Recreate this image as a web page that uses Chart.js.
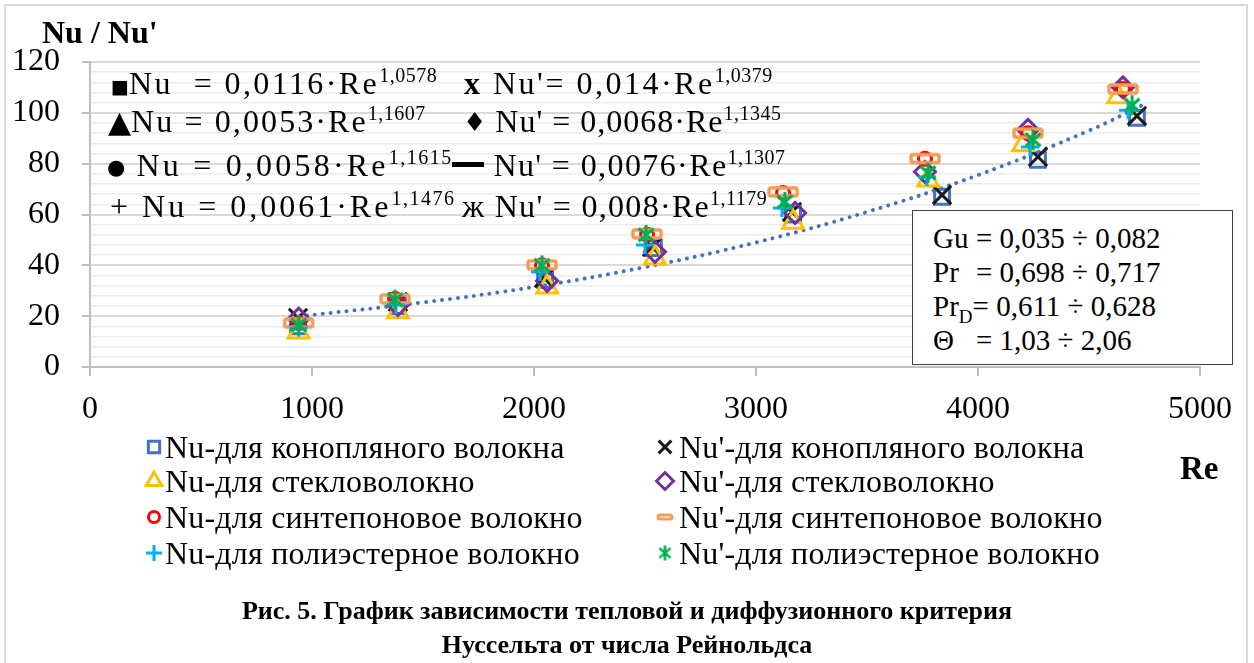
<!DOCTYPE html>
<html>
<head>
<meta charset="utf-8">
<script src="https://cdn.jsdelivr.net/npm/chart.js@4.4.1/dist/chart.umd.min.js"></script>
<style>
  body { margin: 0; background: #fff; }
  #wrap { position: relative; width: 1254px; height: 663px; overflow: hidden; background: #fff; }
  #frame { position: absolute; left: 4px; top: 4px; width: 1240px; height: 700px; border: 2px solid #d9d9d9; }
  canvas { position: absolute; left: 0; top: 0; }
  .txt { position: absolute; font-family: "Liberation Serif", "Times New Roman", serif; color: #000; white-space: nowrap; }
  .eq { font-size: 32px; line-height: 32px; letter-spacing: 1.8px; }
  .eq sup { font-size: 20px; line-height: 0; vertical-align: 12px; letter-spacing: 0.5px; }
  .sym { font-family: "DejaVu Sans", sans-serif; letter-spacing: 0; }
  .bar { display: inline-block; width: 32px; height: 5px; background: #000; vertical-align: 9px; }
  .leg { font-size: 32px; line-height: 34px; letter-spacing: 0.2px; }
  #box { position: absolute; left: 912px; top: 210px; width: 321px; height: 155px; border: 1.5px solid #404040; background: #fff;
         font-family: "Liberation Serif", serif; font-size: 29px; line-height: 34px; padding: 10px 0 0 20px; box-sizing: border-box; }
  #box .lab { display: inline-block; width: 43px; }
  #box sub { font-size: 19px; line-height: 0; vertical-align: -7px; }
  .cap { font-weight: bold; font-size: 26px; line-height: 30px; left: 0; width: 1254px; text-align: center; }
</style>
</head>
<body>
<div id="wrap">
  <div id="frame"></div>
  <canvas id="chart" width="1254" height="663"></canvas>

  <div class="txt" style="left:42px; top:14px; font-size:32px; font-weight:bold;">Nu / Nu'</div>
  <div class="txt" style="left:1180px; top:450px; font-size:33px; font-weight:bold;">Re</div>

  <div class="txt eq" style="left:111px; top:67px; letter-spacing:2.4px;"><span class="sym" style="font-size:19px;vertical-align:1px">■</span>Nu&nbsp; = 0,0116·Re<sup>1,0578</sup></div>
  <div class="txt eq" style="left:108px; top:105px; letter-spacing:2.1px;"><span class="sym" style="font-size:30px">▲</span>Nu = 0,0053·Re<sup>1,1607</sup></div>
  <div class="txt eq" style="left:107px; top:149px; letter-spacing:3.2px;"><span class="sym" style="font-size:21px;vertical-align:2px">●</span> Nu = 0,0058·Re<sup style="letter-spacing:1.5px">1,1615</sup></div>
  <div class="txt eq" style="left:110px; top:190px; letter-spacing:3.0px;">+ Nu = 0,0061·Re<sup style="letter-spacing:1.5px">1,1476</sup></div>

  <div class="txt eq" style="left:464px; top:67px; letter-spacing:2.5px;"><b>x</b> Nu'= 0,014·Re<sup>1,0379</sup></div>
  <div class="txt eq" style="left:463px; top:105px; letter-spacing:1.0px;"><span class="sym" style="font-size:26px;vertical-align:1px">♦</span> Nu' = 0,0068·Re<sup>1,1345</sup></div>
  <div class="txt eq" style="left:452px; top:149px; letter-spacing:1.4px;"><span class="bar"></span> Nu' = 0,0076·Re<sup>1,1307</sup></div>
  <div class="txt eq" style="left:462px; top:190px; letter-spacing:1.3px;">ж Nu' = 0,008·Re<sup>1,1179</sup></div>

  <div id="box">
    <div><span class="lab">Gu</span>= 0,035 ÷ 0,082</div>
    <div><span class="lab">Pr</span>= 0,698 ÷ 0,717</div>
    <div>Pr<sub>D</sub>= 0,611 ÷ 0,628</div>
    <div><span class="lab">Θ</span>= 1,03 ÷ 2,06</div>
  </div>

  <div class="txt leg" style="left:165px; top:430px;">Nu-для конопляного волокна</div>
  <div class="txt leg" style="left:679px; top:430px;">Nu'-для конопляного волокна</div>
  <div class="txt leg" style="left:165px; top:464px;">Nu-для стекловолокно</div>
  <div class="txt leg" style="left:679px; top:464px;">Nu'-для стекловолокно</div>
  <div class="txt leg" style="left:165px; top:500px;">Nu-для синтепоновое волокно</div>
  <div class="txt leg" style="left:679px; top:500px;">Nu'-для синтепоновое волокно</div>
  <div class="txt leg" style="left:165px; top:536px;">Nu-для полиэстерное волокно</div>
  <div class="txt leg" style="left:679px; top:536px;">Nu'-для полиэстерное волокно</div>

  <div class="txt cap" style="top:596px;">Рис. 5. График зависимости тепловой и диффузионного критерия</div>
  <div class="txt cap" style="top:630px;">Нуссельта от числа Рейнольдса</div>
</div>

<script>
// ---------- Data ----------
const seriesLabels = [
  "Nu-для конопляного волокна", "Nu'-для конопляного волокна",
  "Nu-для стекловолокно", "Nu'-для стекловолокно",
  "Nu-для синтепоновое волокно", "Nu'-для синтепоновое волокно",
  "Nu-для полиэстерное волокно", "Nu'-для полиэстерное волокно"
];

const reNuHemp = [937, 1387, 2050, 2540, 3167, 3838, 4270, 4716];
const nuHemp   = [16, 24, 34.3, 46.8, 60, 67, 81.5, 98];
const reNuPHemp = [937, 1387, 2045, 2532, 3162, 3838, 4270, 4716];
const nuPHemp   = [19.3, 25.6, 35, 47.2, 61, 67.7, 82.7, 98.8];

const reNuGlass = [940, 1387, 2059, 2545, 3167, 3775, 4203, 4631];
const nuGlass   = [13.8, 21.7, 31.5, 42.9, 57, 73.6, 87.4, 106.3];
const reNuPGlass = [940, 1387, 2059, 2545, 3176, 3761, 4225, 4653];
const nuPGlass   = [19, 24.4, 33.9, 45.3, 60.6, 76.8, 93.3, 110];

const reNuSynth = [940, 1374, 2036, 2509, 3122, 3761, 4225, 4653];
const nuSynth   = [17.3, 26.8, 40, 52, 68.5, 81.9, 92, 109.4];
const reNuPSynth = [940, 1374, 2036, 2509, 3122, 3761, 4225, 4653];
const nuPSynth   = [17.3, 26.8, 40.2, 52.4, 68.9, 82, 92, 109.4];

const reNuPoly = [940, 1378, 2027, 2500, 3117, 3770, 4234, 4676];
const nuPoly   = [15.4, 24.4, 37.4, 48, 62.6, 74.8, 86.6, 101];
const reNuPPoly = [940, 1374, 2036, 2505, 3130, 3775, 4248, 4694];
const nuPPoly   = [16.5, 26.5, 40, 52, 65, 76.4, 89.4, 103];

// dotted trend line
const trendRe = [940, 1500, 2000, 2500, 3000, 3500, 4000, 4500, 4740];
const trendNu = [19.9, 25.4, 31.5, 39.3, 49, 61, 75.5, 93, 103];

const xMin = 0, xMax = 5000, xStep = 1000;
const yMin = 0, yMax = 120, yLabelStep = 20, yMinorStep = 4;

// ---------- Custom markers ----------
function makeDash(w, h, lw) {
  const c = document.createElement("canvas");
  c.width = w + 6; c.height = h + 6;
  const g = c.getContext("2d");
  g.strokeStyle = "#F59D56"; g.lineWidth = lw;
  g.beginPath();
  g.roundRect(3, 3, w, h, 2);
  g.stroke();
  return c;
}
function makeStar(s, lw) {
  const c = document.createElement("canvas");
  c.width = s + 4; c.height = s + 4;
  const g = c.getContext("2d");
  const m = c.width / 2, r = s / 2;
  g.strokeStyle = "#00B050"; g.lineWidth = lw;
  g.beginPath();
  g.moveTo(m, m - r); g.lineTo(m, m + r);
  g.moveTo(m - r * 0.75, m - r * 0.65); g.lineTo(m + r * 0.75, m + r * 0.65);
  g.moveTo(m + r * 0.75, m - r * 0.65); g.lineTo(m - r * 0.75, m + r * 0.65);
  g.stroke();
  return c;
}

const pts = (xs, ys) => xs.map((x, i) => ({ x, y: ys[i] }));

const styles = [
  { pointStyle: "rect", color: "#4472C4", radius: 10.5, legStyle: "rect", legRadius: 8 },
  { pointStyle: "crossRot", color: "#1a1a1a", radius: 13, legStyle: "crossRot", legRadius: 9 },
  { pointStyle: "triangle", color: "#FFC000", radius: 12, legStyle: "triangle", legRadius: 9 },
  { pointStyle: "rectRot", color: "#7030A0", radius: 10.5, legStyle: "rectRot", legRadius: 8.5 },
  { pointStyle: "circle", color: "#FF0000", radius: 6.5, legStyle: "circle", legRadius: 5.5 },
  { pointStyle: makeDash(28, 8, 3.5), color: "#F59D56", radius: 10, legStyle: makeDash(14, 4, 3), legRadius: 6 },
  { pointStyle: "cross", color: "#00B0F0", radius: 9, legStyle: "cross", legRadius: 8 },
  { pointStyle: makeStar(20, 3), color: "#00B050", radius: 10, legStyle: makeStar(15, 2.6), legRadius: 7 }
];

const seriesData = [
  pts(reNuHemp, nuHemp), pts(reNuPHemp, nuPHemp),
  pts(reNuGlass, nuGlass), pts(reNuPGlass, nuPGlass),
  pts(reNuSynth, nuSynth), pts(reNuPSynth, nuPSynth),
  pts(reNuPoly, nuPoly), pts(reNuPPoly, nuPPoly)
];

const datasets = seriesData.map((d, i) => ({
  label: seriesLabels[i],
  data: d,
  showLine: false,
  pointStyle: styles[i].pointStyle,
  pointRadius: styles[i].radius,
  pointBorderColor: styles[i].color,
  pointBackgroundColor: "rgba(0,0,0,0)",
  pointBorderWidth: 3,
  order: 8 - i
}));

datasets.push({
  label: "trend",
  data: pts(trendRe, trendNu),
  showLine: true,
  borderColor: "#4472C4",
  borderWidth: 4,
  borderDash: [0.01, 8],
  borderCapStyle: "round",
  tension: 0.4,
  pointRadius: 0,
  order: 9
});

// ---------- Legend markers (text is html) ----------
const legendPlugin = {
  id: "twoColLegend",
  afterDraw(chart) {
    const ctx = chart.ctx;
    const colMarker = [154, 665];
    const rowY = [447, 481, 517, 553];
    ctx.save();
    styles.forEach((st, i) => {
      const col = i % 2, row = Math.floor(i / 2);
      ctx.strokeStyle = st.color;
      ctx.fillStyle = "rgba(0,0,0,0)";
      ctx.lineWidth = 3;
      Chart.helpers.drawPoint(ctx, {
        pointStyle: st.legStyle, radius: st.legRadius, borderWidth: 3, rotation: 0
      }, colMarker[col], rowY[row]);
    });
    ctx.restore();
  }
};

// ---------- Chart ----------
new Chart(document.getElementById("chart"), {
  type: "scatter",
  data: { datasets },
  options: {
    responsive: false,
    animation: false,
    layout: { padding: { left: 0, top: 62, right: 54, bottom: 236 } },
    plugins: { legend: { display: false }, tooltip: { enabled: false } },
    scales: {
      x: {
        type: "linear",
        min: xMin, max: xMax,
        ticks: {
          stepSize: xStep, color: "#000", padding: 14,
          font: { family: "Liberation Serif", size: 32 },
          callback: (v) => String(v)
        },
        grid: { drawOnChartArea: false, color: "#bfbfbf", tickLength: 9, lineWidth: 2 },
        border: { color: "#bfbfbf", width: 2 },
        afterFit: (s) => { s.height = 60; }
      },
      y: {
        min: yMin, max: yMax,
        ticks: {
          stepSize: yMinorStep, autoSkip: false, color: "#000", padding: 22,
          font: { family: "Liberation Serif", size: 32 },
          callback: (v) => (v % yLabelStep === 0 ? v : "")
        },
        grid: {
          color: (c) => (c.tick && c.tick.value % yLabelStep === 0 ? "#d9d9d9" : "#ececec"),
          lineWidth: (c) => (c.tick && c.tick.value % yLabelStep === 0 ? 2 : 1.4),
          tickColor: (c) => (c.tick && c.tick.value % yLabelStep === 0 ? "#bfbfbf" : "rgba(0,0,0,0)"),
          tickLength: 8
        },
        border: { color: "#bfbfbf", width: 2 },
        afterFit: (s) => { s.width = 90; }
      }
    }
  },
  plugins: [legendPlugin]
});
</script>
</body>
</html>
